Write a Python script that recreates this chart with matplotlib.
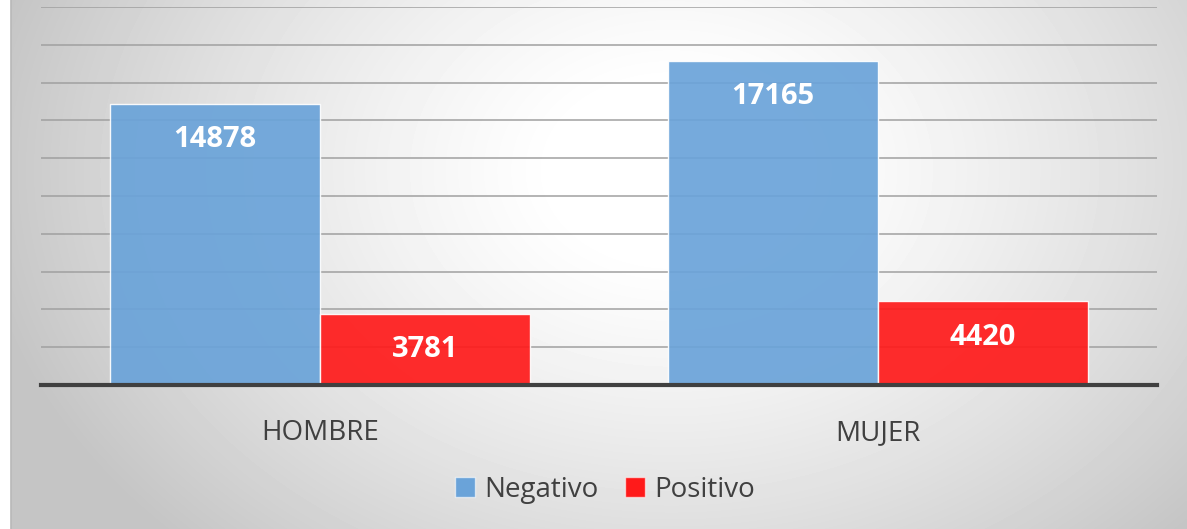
import numpy as np
import matplotlib
matplotlib.use("Agg")
import matplotlib.pyplot as plt
from matplotlib.patches import Patch

plt.rcParams['font.family'] = ['Open Sans', 'DejaVu Sans']

# datos
categorias = ['HOMBRE', 'MUJER']
negativo = [14878, 17165]
positivo = [3781, 4420]
series = ['Negativo', 'Positivo']
colores = ['#6AA3D9', '#FF1A1A']

W, H = 1187, 529
fig = plt.figure(figsize=(W / 100, H / 100), dpi=100)

# fondo con degradado radial
bg = fig.add_axes([11 / W, 0, 1 - 11 / W, 1], zorder=-10)
yy, xx = np.mgrid[0:H, 0:W - 11]
d = np.sqrt(((xx - 660) / 720.0) ** 2 + ((yy - 170) / 540.0) ** 2)
val = np.clip(1.02 - 0.26 * d ** 1.4, 0.77, 1.0)
bg.imshow(val, cmap='gray', vmin=0, vmax=1, aspect='auto', interpolation='bilinear')
bg.set_xticks([])
bg.set_yticks([])
for s in bg.spines.values():
    s.set_visible(False)
bg.spines['left'].set_visible(True)
bg.spines['left'].set_color('#b8b8b8')
bg.spines['left'].set_linewidth(1.2)

ax = fig.add_axes([41 / W, 144 / H, 1116 / W, 378 / H])
ax.patch.set_alpha(0)

x = np.arange(len(categorias))
ancho = 0.376
b1 = ax.bar(x - ancho / 2, negativo, ancho, color=colores[0], alpha=0.92,
            edgecolor=(1, 1, 1, 0.5), linewidth=1, zorder=3)
b2 = ax.bar(x + ancho / 2, positivo, ancho, color=colores[1], alpha=0.92,
            edgecolor=(1, 1, 1, 0.5), linewidth=1, zorder=3)

for barras, vals in [(b1, negativo), (b2, positivo)]:
    for b, v in zip(barras, vals):
        ax.annotate(str(v), (b.get_x() + b.get_width() / 2, v), xytext=(0, -36),
                    textcoords='offset pixels', ha='center', va='center',
                    color='white', fontsize=21, fontweight='bold', zorder=5)

ax.set_xlim(-0.5, 1.5)
ax.set_ylim(0, 20000)
ax.set_yticks(np.arange(0, 20001, 2000))
ax.yaxis.grid(True, color='#a0a0a0', linewidth=1.1, zorder=1)
ax.set_axisbelow(True)
ax.tick_params(axis='y', left=False, labelleft=False)
ax.tick_params(axis='x', bottom=False, pad=21, labelsize=20, labelcolor='#404040')
ax.set_xticks(x)
ax.set_xticklabels(categorias)
for s in ['top', 'right', 'left']:
    ax.spines[s].set_visible(False)
ax.spines['bottom'].set_color('#404040')
ax.spines['bottom'].set_linewidth(3)
ax.spines['bottom'].set_zorder(6)

handles = [Patch(facecolor=c, edgecolor=(1, 1, 1, 0.6), label=s) for c, s in zip(colores, series)]
leg = fig.legend(handles=handles, loc='center', bbox_to_anchor=(605 / W, 1 - 490 / H),
                 ncol=2, frameon=False, fontsize=20, handlelength=0.72, handleheight=0.72,
                 handletextpad=0.35, columnspacing=0.95, labelcolor='#404040')

fig.savefig('out.png', dpi=100)
